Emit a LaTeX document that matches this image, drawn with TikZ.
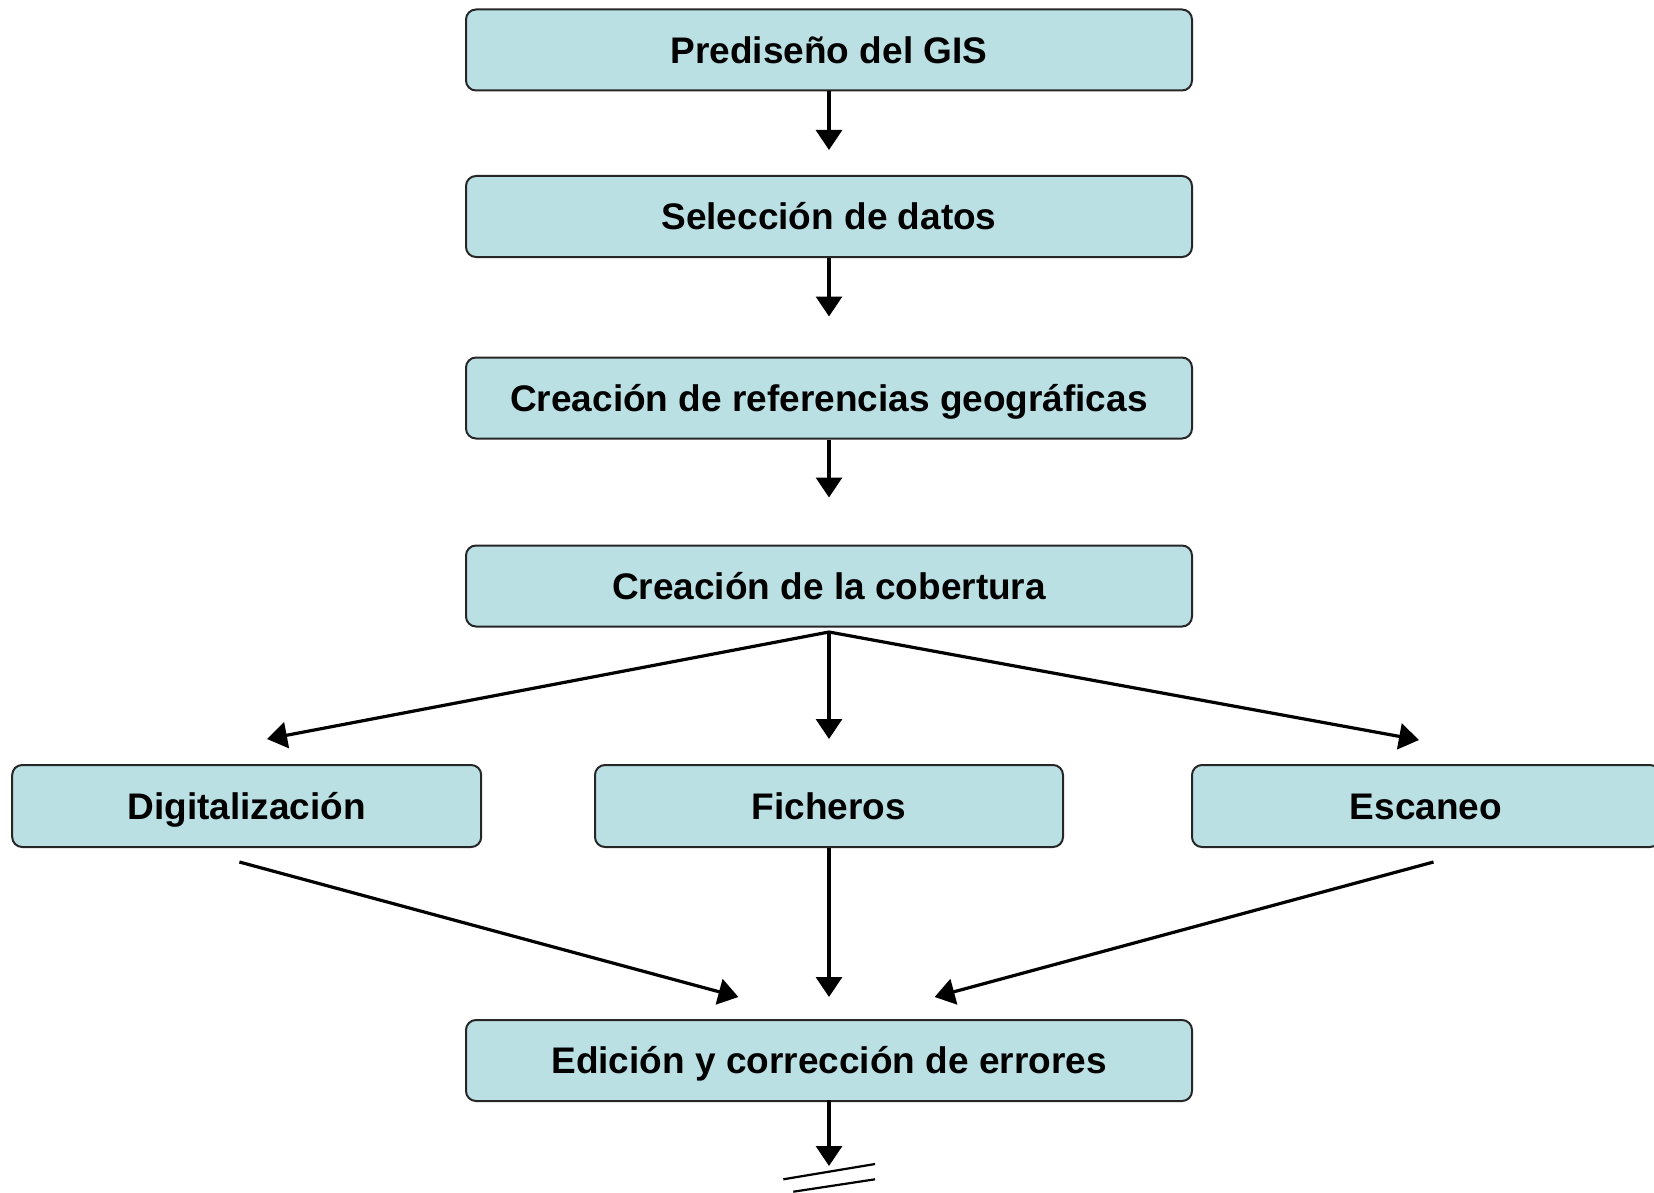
\documentclass[tikz,border=0pt]{standalone}
\usepackage{fontspec}
\setmainfont{Liberation Sans}
\usetikzlibrary{arrows.meta}
\definecolor{boxfill}{RGB}{186,224,228}
\begin{document}
\begin{tikzpicture}[x=1pt,y=-1pt,
  box/.style={draw=black!85, line width=2pt, fill=boxfill, rounded corners=10pt,
    minimum height=81pt, inner sep=0pt, text height=29pt, text depth=2.4pt,
    font=\fontsize{37}{40}\selectfont\bfseries},
  arr/.style={line width=3.2pt, -{Triangle[length=20pt,width=26pt]}},
  ln/.style={line width=3pt}]
\useasboundingbox (0,0) rectangle (1654,1193);
\clip (0,0) rectangle (1654,1193);
\node[box, minimum width=726pt] (n1) at (829,50) {Prediseño del GIS};
\node[box, minimum width=726pt] (n2) at (829,216.5) {Selección de datos};
\node[box, minimum width=726pt] (n3) at (829,398) {Creación de referencias geográficas};
\node[box, minimum width=726pt] (n4) at (829,586) {Creación de la cobertura};
\node[box, minimum width=469pt, minimum height=82pt] (digi) at (246.7,806) {Digitalización};
\node[box, minimum width=468pt, minimum height=82pt] (fich) at (829,806) {Ficheros};
\node[box, minimum width=468pt, minimum height=82pt] (esc) at (1426,806) {Escaneo};
\node[box, minimum width=726pt] (edic) at (829,1060.5) {Edición y corrección de errores};
\draw[arr, shorten >=25pt] (n1.south) -- (n2.north);
\draw[arr, shorten >=40pt] (n2.south) -- (n3.north);
\draw[arr, shorten >=47pt] (n3.south) -- (n4.north);
\coordinate (br) at (829,632);
\coordinate (tl) at (267,739);
\coordinate (tr) at (1419,740);
\draw[arr] (br) -- (tl);
\draw[arr] (br) -- (tr);
\draw[arr, shorten >=25pt] (br) -- (fich.north);
\coordinate (sl) at (239.4,862);
\coordinate (el) at (738.4,997);
\coordinate (sr) at (1433.5,862);
\coordinate (er) at (934.6,997);
\draw[arr] (sl) -- (el);
\draw[arr] (sr) -- (er);
\draw[arr, shorten >=22pt] (fich.south) -- (edic.north);
\coordinate (fin) at (829,1166);
\draw[arr] ([yshift=2pt]edic.south) -- (fin);
\coordinate (a1) at (783.3,1179.3);
\coordinate (a2) at (875,1164);
\coordinate (b1) at (793.3,1191.7);
\coordinate (b2) at (875,1179.3);
\draw[line width=2.2pt] (a1) -- (a2);
\draw[line width=2.2pt] (b1) -- (b2);
\end{tikzpicture}
\end{document}
